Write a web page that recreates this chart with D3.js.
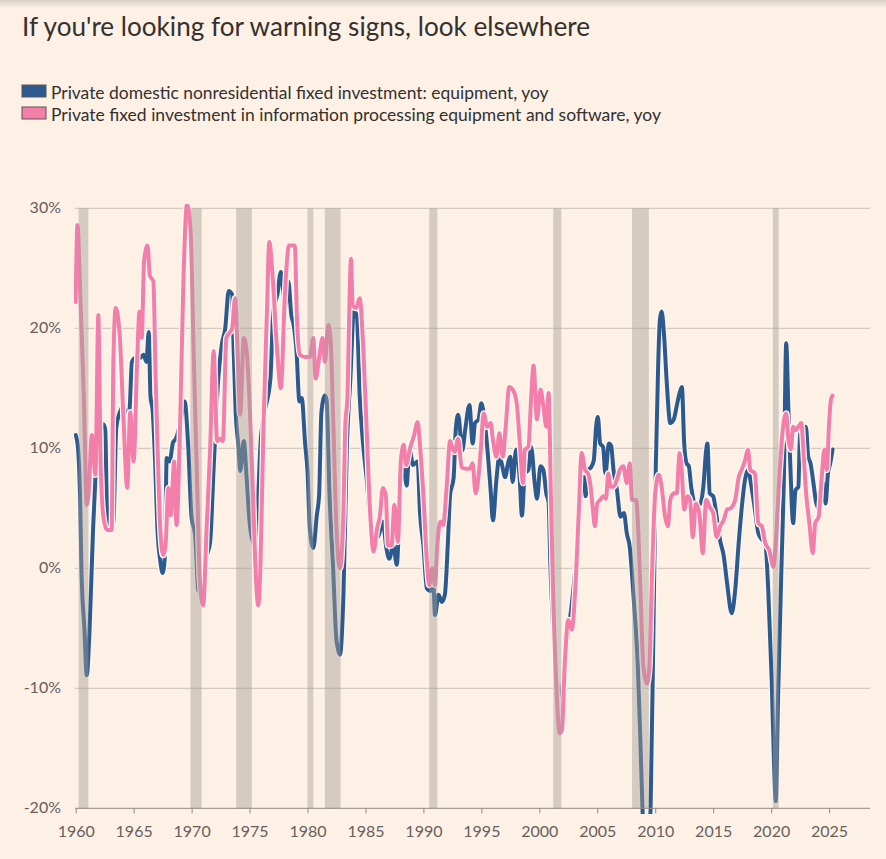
<!DOCTYPE html>
<html>
<head>
<meta charset="utf-8">
<script src="https://cdn.jsdelivr.net/npm/d3@7"></script>
<style>
  body { margin: 0; background: #fdf1e6; }
  svg { display: block; }
  text { font-family: Lato, "Open Sans", sans-serif; }
</style>
</head>
<body>
<svg id="chart" width="886" height="859"></svg>
<script>
// year / yoy % pairs
var equipment = [
  [1960.0,11.1],[1960.2,10],[1960.4,5],[1960.5,-0.3],[1960.75,-5],[1960.95,-8.9],[1961.2,-5],[1961.5,3.3],
  [1961.7,7.5],[1961.95,11],[1962.2,12],[1962.4,12],[1962.55,11.5],[1962.7,5],[1962.95,3.5],[1963.25,3.9],
  [1963.5,11.7],[1963.8,13],[1964.1,13.5],[1964.45,12.5],[1964.65,13.3],[1964.85,17.2],[1965.1,17.5],
  [1965.5,17.5],[1965.85,17.8],[1966.1,17.2],[1966.3,19.7],[1966.45,14.4],[1966.65,13],[1966.85,8.9],
  [1967.05,3.3],[1967.3,0.6],[1967.5,-0.4],[1967.7,1.1],[1967.85,9.2],[1968.1,8.9],[1968.4,10.5],
  [1968.65,10.8],[1969.0,12],[1969.4,13.9],[1969.7,10.3],[1970.0,4.2],[1970.3,2.8],[1970.6,-1.9],
  [1970.8,-1.8],[1971.0,-1],[1971.3,1],[1971.6,2.2],[1971.9,8.3],[1972.3,15.8],[1972.6,18.6],[1972.9,20],
  [1973.2,23.1],[1973.5,22.8],[1973.6,19.2],[1973.8,13],[1974.03,10.3],[1974.2,8.1],[1974.5,10.6],
  [1974.75,7.5],[1975.0,3.9],[1975.2,2.5],[1975.45,2],[1975.7,5],[1975.95,10.5],[1976.3,13],[1976.8,15.8],
  [1977.05,21.4],[1977.4,22.8],[1977.7,24.7],[1977.85,23.6],[1978.1,21.9],[1978.35,23.9],[1978.6,21.1],
  [1978.8,20.3],[1979.05,18.1],[1979.3,13.9],[1979.5,14.2],[1979.8,10.3],[1980.0,8.1],[1980.2,3.3],
  [1980.5,1.7],[1980.8,4.4],[1981.0,6.1],[1981.2,13],[1981.5,14.4],[1981.65,14],[1981.9,6.1],[1982.2,0.2],
  [1982.5,-6],[1982.8,-7.2],[1983.1,-2.2],[1983.4,10.3],[1983.7,15.8],[1984.0,21.4],[1984.25,21.1],
  [1984.5,14.4],[1984.8,10.3],[1985.1,7.5],[1985.5,3.3],[1986.0,2.5],[1986.25,3.1],[1986.5,3.9],
  [1986.8,1.7],[1987.05,0.8],[1987.4,1.9],[1987.7,0.3],[1988.0,6.1],[1988.3,8.9],[1988.55,6.9],[1988.8,10],
  [1989.1,8.6],[1989.5,8.9],[1989.7,4.7],[1990.0,1.9],[1990.3,-1.7],[1990.6,-1.9],[1990.85,-1.1],
  [1991.0,-3.9],[1991.3,-2.2],[1991.6,-2.8],[1991.85,-2.2],[1992.1,1.9],[1992.3,6.1],[1992.6,7.5],
  [1992.8,11.7],[1993.0,12.8],[1993.35,9.8],[1993.6,11.5],[1993.97,13.6],[1994.25,10.4],[1994.45,12.1],
  [1994.75,12.4],[1995.0,13.75],[1995.3,12.1],[1995.6,9],[1995.8,6.5],[1996.0,4],[1996.3,7.4],[1996.55,9.3],
  [1996.75,8.75],[1997.05,7.6],[1997.3,8.75],[1997.5,9.3],[1997.7,7.2],[1998.0,9.9],[1998.3,7.6],
  [1998.5,4.4],[1998.75,7.9],[1999.05,8.2],[1999.3,10.1],[1999.6,7.1],[1999.8,5.8],[2000.1,8.5],
  [2000.35,8.2],[2000.6,6.25],[2000.8,5.5],[2000.95,0.4],[2001.2,-5.1],[2001.5,-9.3],[2001.8,-10.7],
  [2002.1,-9],[2002.4,-6],[2002.8,-3],[2003.2,1],[2003.5,5.4],[2003.85,7.6],[2004.0,6],[2004.2,8.2],
  [2004.45,8.4],[2004.7,9],[2004.9,11.8],[2005.05,12.6],[2005.25,10.4],[2005.5,10.1],[2005.7,7.9],
  [2006.0,10.4],[2006.2,10.2],[2006.4,8.2],[2006.7,6.5],[2007.0,4.3],[2007.3,4.6],[2007.55,2.9],
  [2007.8,1.8],[2008.05,-1.25],[2008.25,-4],[2008.5,-8.2],[2008.7,-13.75],[2008.9,-20],[2009.05,-23],
  [2009.25,-25],[2009.45,-23],[2009.6,-20],[2009.84,-5.4],[2010.05,8.5],[2010.25,16.8],[2010.4,20.7],
  [2010.55,21.4],[2010.75,19.6],[2011.0,15.4],[2011.3,12.1],[2011.6,12.4],[2011.85,13.5],[2012.1,14.6],
  [2012.3,15.1],[2012.5,10.4],[2012.7,8.75],[2012.9,8.5],[2013.1,6.8],[2013.3,5.7],[2013.5,5.1],
  [2013.9,5.4],[2014.15,6.8],[2014.4,9.9],[2014.5,10.4],[2014.7,6.25],[2015.0,6],[2015.3,4.3],
  [2015.6,2.3],[2015.9,1.1],[2016.2,-1.25],[2016.6,-3.75],[2016.9,-1.8],[2017.2,2.1],[2017.5,5.4],
  [2017.75,7.4],[2018.0,8.2],[2018.3,6.8],[2018.6,4.9],[2018.9,2.9],[2019.2,2.4],[2019.5,2.1],
  [2019.75,-1.8],[2020.05,-9.3],[2020.25,-16.25],[2020.4,-19.4],[2020.6,-10.7],[2020.9,0.4],[2021.1,7.4],
  [2021.3,18.75],[2021.5,12.9],[2021.65,8.75],[2021.9,3.75],[2022.1,6.5],[2022.35,6.8],[2022.5,11.5],
  [2022.8,11.6],[2023.0,11.8],[2023.2,9.3],[2023.4,8.75],[2023.65,7.1],[2023.9,5.4],[2024.2,4.9],
  [2024.5,7.1],[2024.7,5.4],[2024.9,7.9],[2025.1,8.75],[2025.3,9.9]
];

var infoProcessing = [
  [1960.0,22.2],[1960.15,28.6],[1960.4,22.8],[1960.7,14.4],[1960.95,5.3],[1961.1,6.1],[1961.4,11.1],
  [1961.7,7.8],[1961.95,21.1],[1962.15,8.9],[1962.4,4.2],[1962.7,3.2],[1963.1,3.2],[1963.25,17.2],
  [1963.45,21.7],[1963.8,19.4],[1964.1,13],[1964.45,6.7],[1964.7,13],[1965.0,8.9],[1965.3,17.2],
  [1965.5,21.4],[1965.7,19.2],[1965.9,25.6],[1966.2,26.9],[1966.4,24.4],[1966.7,23.9],[1966.9,15.8],
  [1967.1,8.9],[1967.3,3.3],[1967.55,1.1],[1967.75,1.9],[1968.0,6.7],[1968.2,4.4],[1968.5,8.9],
  [1968.7,3.6],[1969.0,11.7],[1969.3,24.2],[1969.6,30.3],[1969.9,28.3],[1970.2,17.2],[1970.5,6.1],
  [1970.7,-0.8],[1971.0,-3.1],[1971.3,3.5],[1971.6,10],[1971.9,18.1],[1972.2,10.6],[1972.45,10.8],
  [1972.7,10.6],[1973.0,19.2],[1973.5,20],[1973.75,22.5],[1974.0,17.2],[1974.2,12.8],[1974.5,19.2],
  [1974.75,18.1],[1975.0,13.9],[1975.3,6.1],[1975.55,-0.8],[1975.75,-3.1],[1975.95,0.6],[1976.2,11.7],
  [1976.5,21.4],[1976.7,27.2],[1977.0,24.2],[1977.35,18.6],[1977.7,15],[1978.05,22.8],[1978.4,26.9],
  [1978.9,26.9],[1979.1,20.6],[1979.35,17.8],[1979.8,17.6],[1980.2,17.6],[1980.5,19.2],[1980.7,15.8],
  [1981.0,17.5],[1981.3,19.2],[1981.5,17.2],[1981.8,20.3],[1982.0,19],[1982.2,13],[1982.5,3.3],
  [1982.8,0],[1983.1,4.7],[1983.25,11.7],[1983.45,14.4],[1983.6,21.4],[1983.75,25.8],[1983.9,21.9],
  [1984.2,21.7],[1984.5,22.5],[1984.8,18.6],[1985.1,11.7],[1985.4,4.7],[1985.7,1.4],[1986.0,3.3],
  [1986.25,4.4],[1986.5,6.7],[1986.75,6.1],[1986.95,1.9],[1987.25,1.9],[1987.5,5.3],[1987.8,2.2],
  [1988.05,8.9],[1988.3,10.3],[1988.5,8.6],[1988.85,10],[1989.2,11.1],[1989.5,12.2],[1989.7,10.3],
  [1990.0,6.1],[1990.3,0.6],[1990.5,-1.4],[1990.75,0],[1991.0,-1.4],[1991.2,1.9],[1991.45,3.9],
  [1991.7,3.6],[1992.0,6.7],[1992.3,10.6],[1992.5,10],[1992.7,9.7],[1993.0,10.8],[1993.3,8.4],
  [1993.7,8.3],[1994.0,8.3],[1994.25,8.75],[1994.5,6.25],[1994.75,7.6],[1994.95,9.9],[1995.2,12.9],
  [1995.5,11.8],[1995.8,12.1],[1996.0,10.7],[1996.3,9.3],[1996.55,11.25],[1996.85,9.3],[1997.1,11.8],
  [1997.4,15.1],[1997.7,14.9],[1998.05,13.75],[1998.3,10.7],[1998.6,7.1],[1998.75,9.9],[1999.05,10.1],
  [1999.3,14.3],[1999.5,16.9],[1999.8,12.4],[2000.1,14.9],[2000.35,13.5],[2000.6,11.8],[2000.8,14.6],
  [2001.0,6],[2001.2,-2.4],[2001.45,-9.3],[2001.75,-13.75],[2001.95,-13.5],[2002.2,-7.9],[2002.5,-4.3],
  [2002.8,-5.1],[2003.1,-1.8],[2003.4,4.6],[2003.65,9.6],[2003.95,8.2],[2004.2,7.9],[2004.4,7],
  [2004.6,5.1],[2004.8,3.5],[2005.0,5.4],[2005.25,5.7],[2005.5,6],[2005.75,5.8],[2005.95,7.9],
  [2006.15,6.8],[2006.4,6.8],[2006.7,7.4],[2006.95,8.2],[2007.25,8.5],[2007.55,7.1],[2007.8,8.75],
  [2008.0,5.7],[2008.35,5.7],[2008.55,2.9],[2008.75,-2.6],[2008.98,-8.2],[2009.3,-9.6],[2009.5,-8.2],
  [2009.7,-1.25],[2010.0,6.25],[2010.3,7.8],[2010.55,6.8],[2010.85,4.3],[2011.1,3.5],[2011.3,5.7],
  [2011.6,6.25],[2011.85,6.25],[2012.1,9.6],[2012.3,7.9],[2012.5,4.9],[2012.8,6],[2013.0,5.7],
  [2013.25,2.6],[2013.5,5.4],[2013.8,4.6],[2014.1,1.25],[2014.4,5.7],[2014.7,5.1],[2015.0,4.6],
  [2015.3,2.6],[2015.6,3.5],[2015.9,4],[2016.2,4.9],[2016.5,5],[2016.9,5.7],[2017.2,7.6],[2017.45,8.2],
  [2017.75,9],[2018.0,9.9],[2018.2,8.2],[2018.6,7.9],[2018.9,3.75],[2019.2,3.5],[2019.5,2.1],
  [2019.85,1.5],[2020.2,0.1],[2020.4,2.1],[2020.7,7.4],[2021.0,11.5],[2021.3,12.9],[2021.5,10.7],
  [2021.7,9.9],[2021.9,11.8],[2022.15,11.5],[2022.35,11.8],[2022.6,12.1],[2022.8,9.6],[2023.0,6.5],
  [2023.3,3.75],[2023.6,1.25],[2023.8,3.75],[2024.1,4.3],[2024.35,7.4],[2024.6,9.9],[2024.8,8.2],
  [2025.0,12.1],[2025.15,14],[2025.3,14.4]
];

// recessions, start / end as fractional years
var recessions = [
  [1960.25,1961.1],[1969.9,1970.87],[1973.85,1975.2],[1980.0,1980.5],[1981.5,1982.85],
  [1990.5,1991.2],[2001.2,2001.9],[2008.0,2009.45],[2020.15,2020.65]
];

var yTicks = [-20, -10, 0, 10, 20, 30];
var xTicks = d3.range(1960, 2026, 5);

var seriesNames = [
  "Private domestic nonresidential fixed investment: equipment, yoy",
  "Private fixed investment in information processing equipment and software, yoy"
];
var seriesColors = ["#2d5a8e", "#f27ea9"];

var svg = d3.select("#chart");

var x = d3.scaleLinear().domain([1960, 2028.53]).range([75.7, 870]);
var y = d3.scaleLinear().domain([-20, 30]).range([808.3, 208.3]);

// top shadow strip
var defs = svg.append("defs");
var grad = defs.append("linearGradient").attr("id", "topShade")
    .attr("x1", 0).attr("y1", 0).attr("x2", 0).attr("y2", 1);
grad.append("stop").attr("offset", "0%").attr("stop-color", "#d9d0c8");
grad.append("stop").attr("offset", "100%").attr("stop-color", "#fdf1e6");
svg.append("rect").attr("width", 886).attr("height", 8).attr("fill", "url(#topShade)");

defs.append("clipPath").attr("id", "plotClip")
  .append("rect")
    .attr("x", 74).attr("y", 204)
    .attr("width", 800).attr("height", 610);

// title + legend, sized to fit the widths they take in the chart
function fitText(sel, target) {
    var w = sel.node().getComputedTextLength();
    var fs = parseFloat(sel.attr("font-size"));
    sel.attr("font-size", fs * target / w);
}

var title = svg.append("text")
    .attr("x", 22).attr("y", 36)
    .attr("font-size", 22)
    .attr("fill", "#33302e")
    .text("If you're looking for warning signs, look elsewhere");
fitText(title, 568);

var legendWidths = [498, 610];
seriesNames.forEach(function(name, i){
    var g = svg.append("g").attr("transform", "translate(22," + (85 + i*22) + ")");
    g.append("rect")
        .attr("width", 24).attr("height", 12)
        .attr("fill", seriesColors[i])
        .attr("stroke", "#5a5552")
        .attr("stroke-width", 1);
    var t = g.append("text")
        .attr("x", 29).attr("y", 13.5)
        .attr("font-size", 15.5)
        .attr("fill", "#33302e")
        .text(name);
    fitText(t, legendWidths[i]);
});

// gridlines
svg.append("g").selectAll("line")
    .data(yTicks.filter(function(d){ return d > -20; }))
    .enter().append("line")
    .attr("x1", 75).attr("x2", 870)
    .attr("y1", function(d){ return y(d); })
    .attr("y2", function(d){ return y(d); })
    .attr("stroke", "#c9c0b8")
    .attr("stroke-width", 1);

svg.append("g").selectAll("text")
    .data(yTicks)
    .enter().append("text")
    .attr("x", 61)
    .attr("y", function(d){ return y(d) + 1; })
    .attr("text-anchor", "end")
    .attr("dominant-baseline", "middle")
    .attr("font-size", 16)
    .attr("fill", "#66605c")
    .text(function(d){ return d + "%"; });

// lines with light halo, pink on top
var line = d3.line()
    .x(function(d){ return x(d[0]); })
    .y(function(d){ return y(d[1]); })
    .curve(d3.curveMonotoneX);

var lines = svg.append("g").attr("clip-path", "url(#plotClip)");
[equipment, infoProcessing].forEach(function(data, i){
    lines.append("path")
        .attr("d", line(data))
        .attr("fill", "none")
        .attr("stroke", "#fdf6ef")
        .attr("stroke-width", 6.5)
        .attr("stroke-linejoin", "round");
    lines.append("path")
        .attr("d", line(data))
        .attr("fill", "none")
        .attr("stroke", seriesColors[i])
        .attr("stroke-width", 4)
        .attr("stroke-linejoin", "round")
        .attr("stroke-linecap", "round");
});

// recession shading, drawn over the lines
svg.append("g").selectAll("rect")
    .data(recessions)
    .enter().append("rect")
    .attr("x", function(d){ return x(d[0]); })
    .attr("width", function(d){ return x(d[1]) - x(d[0]); })
    .attr("y", y(30))
    .attr("height", y(-20) - y(30))
    .attr("fill", "#a69d94")
    .attr("fill-opacity", 0.45);

// x axis
var xAxis = svg.append("g")
    .attr("transform", "translate(0," + y(-20) + ")")
    .call(d3.axisBottom(x).tickValues(xTicks).tickSize(5).tickPadding(12).tickFormat(d3.format("d")));
xAxis.select(".domain").remove();
xAxis.selectAll(".tick line").attr("stroke", "#8f8882");
xAxis.selectAll("text")
    .attr("font-size", 16)
    .attr("font-family", "Lato, sans-serif")
    .attr("fill", "#66605c");
svg.append("line")
    .attr("x1", 75).attr("x2", 870)
    .attr("y1", y(-20)).attr("y2", y(-20))
    .attr("stroke", "#8f8882")
    .attr("stroke-width", 1);
</script>
</body>
</html>
